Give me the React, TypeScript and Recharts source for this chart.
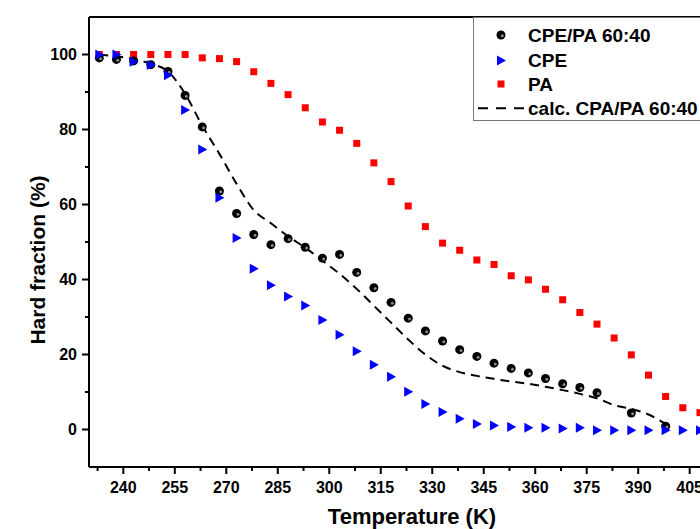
import {
  ComposedChart,
  Scatter,
  Line,
  XAxis,
  YAxis,
  ReferenceLine,
} from "recharts";

// temperatures (K), 5 K steps starting at 233 K
const temps = [
  233, 238, 243, 248, 253, 258, 263, 268, 273, 278, 283, 288, 293, 298, 303, 308,
  313, 318, 323, 328, 333, 338, 343, 348, 353, 358, 363, 368, 373, 378, 383, 388,
  393, 398, 403, 408,
];

const paValues = [
  100, 100, 100, 100, 100, 100, 99.1, 98.9, 98.1, 95.4, 92.3, 89.3, 85.8, 82.0,
  79.8, 76.3, 71.1, 66.1, 59.6, 54.1, 49.7, 47.8, 45.2, 44.0, 41.0, 39.9, 37.4,
  34.6, 31.2, 28.1, 24.4, 19.9, 14.5, 8.8, 5.8, 4.5,
];

const cpeValues = [
  100, 100, 98.1, 97.2, 94.5, 85.2, 74.7, 61.8, 51.1, 42.9, 38.5, 35.5, 33.1,
  29.2, 25.3, 20.9, 17.3, 14.1, 10.1, 6.8, 4.7, 2.9, 1.5, 1.1, 0.7, 0.5, 0.5,
  0.3, 0.5, -0.2, -0.2, -0.2, -0.2, -0.2, -0.2, -0.2,
];

const blendTemps = [
  233, 238, 243, 248, 253, 258, 263, 268, 273, 278, 283, 288, 293, 298, 303, 308,
  313, 318, 323, 328, 333, 338, 343, 348, 353, 358, 363, 368, 373, 378, 388, 398,
];
const blendValues = [
  99.1, 98.7, 98.3, 97.3, 95.5, 89.1, 80.7, 63.6, 57.6, 52.0, 49.3, 50.9, 48.6,
  45.7, 46.7, 41.9, 37.8, 33.9, 29.7, 26.3, 23.6, 21.3, 19.5, 17.7, 16.3, 15.1,
  13.6, 12.2, 11.2, 9.8, 4.4, 0.9,
];

const calcTemps = [
  233, 238, 243, 248, 253, 258, 263, 268, 273, 278, 283, 288, 293, 298, 303, 308,
  313, 318, 323, 328, 333, 338, 343, 348, 353, 358, 363, 368, 373, 378, 383, 388,
  393, 398,
];
const calcValues = [
  100, 99.5, 98.8, 97.5, 95.5, 89.5, 81, 73.5, 65.5, 58.5, 55, 51.5, 48.5, 45,
  41.5, 37.5, 33, 28.5, 24, 20, 17, 15.3, 14.3, 13.5, 12.8, 12.2, 11.4, 10.5,
  9.5, 8.3, 6.5, 5.5, 4.0, 1.5,
];

const xTicks = [
  232.5, 240, 247.5, 255, 262.5, 270, 277.5, 285, 292.5, 300, 307.5, 315, 322.5,
  330, 337.5, 345, 352.5, 360, 367.5, 375, 382.5, 390, 397.5, 405, 412.5,
];
const yTicks = [0, 10, 20, 30, 40, 50, 60, 70, 80, 90, 100];

const paData = temps.map((t, i) => ({ t, v: paValues[i] }));
const cpeData = temps.map((t, i) => ({ t, v: cpeValues[i] }));
const blendData = blendTemps.map((t, i) => ({ t, v: blendValues[i] }));
const calcData = calcTemps.map((t, i) => ({ t, v: calcValues[i] }));

const FONT = "Arial, 'Liberation Sans', sans-serif";

const Square = ({ cx, cy }: any) => (
  <rect x={cx - 3.5} y={cy - 3.5} width={7} height={7} fill="#ff0000" />
);

const Triangle = ({ cx, cy }: any) => (
  <path d={`M${cx - 4},${cy - 5} L${cx + 5},${cy} L${cx - 4},${cy + 5} Z`} fill="#0000ff" />
);

const Sphere = ({ cx, cy }: any) => (
  <g>
    <circle cx={cx} cy={cy} r={4.5} fill="#000" />
    <circle cx={cx + 1.3} cy={cy + 0.8} r={1.5} fill="#888" />
  </g>
);

const XTick = ({ x, y, payload }: any) => {
  const major = payload.value % 15 === 0;
  return (
    <g>
      <line x1={x} y1={y} x2={x} y2={y + (major ? 7 : 4)} stroke="#000" strokeWidth={2} />
      {major && (
        <text x={x} y={y + 26} textAnchor="middle" fontFamily={FONT} fontWeight="bold" fontSize={16} fill="#000">
          {payload.value}
        </text>
      )}
    </g>
  );
};

const YTick = ({ x, y, payload }: any) => {
  const major = payload.value % 20 === 0;
  return (
    <g>
      <line x1={x} y1={y} x2={x - (major ? 7 : 4)} y2={y} stroke="#000" strokeWidth={2} />
      {major && (
        <text x={x - 12} y={y + 5.5} textAnchor="end" fontFamily={FONT} fontWeight="bold" fontSize={16} fill="#000">
          {payload.value}
        </text>
      )}
    </g>
  );
};

const legendRows = [
  { label: "CPE/PA 60:40", y: 18, kind: "sphere" },
  { label: "CPE", y: 43.5, kind: "triangle" },
  { label: "PA", y: 67, kind: "square" },
  { label: "calc. CPA/PA 60:40", y: 91.3, kind: "line" },
];

export default function App() {
  return (
    <div style={{ position: "absolute", left: 0, top: 0, width: 700, height: 529, overflow: "hidden", background: "#fff" }}>
      <ComposedChart width={740} height={529} margin={{ top: 17, right: 16, bottom: 32, left: 39 }}>
        <XAxis
          type="number"
          dataKey="t"
          domain={[230, 415]}
          ticks={xTicks}
          interval={0}
          allowDataOverflow
          height={30}
          tickSize={0}
          tickMargin={0}
          tickLine={false}
          axisLine={{ stroke: "#000", strokeWidth: 2 }}
          tick={<XTick />}
          label={{
            content: () => (
              <text x={412} y={524} textAnchor="middle" fontFamily={FONT} fontWeight="bold" fontSize={22} fill="#000">
                Temperature (K)
              </text>
            ),
          }}
        />
        <YAxis
          type="number"
          dataKey="v"
          domain={[-10, 110]}
          ticks={yTicks}
          interval={0}
          allowDataOverflow
          width={50}
          tickSize={0}
          tickMargin={0}
          tickLine={false}
          axisLine={{ stroke: "#000", strokeWidth: 2 }}
          tick={<YTick />}
          label={{
            content: () => (
              <text
                transform="translate(45,260) rotate(-90)"
                textAnchor="middle"
                fontFamily={FONT}
                fontWeight="bold"
                fontSize={21}
                fill="#000"
              >
                Hard fraction (%)
              </text>
            ),
          }}
        />
        <ReferenceLine y={110} stroke="#000" strokeWidth={2} />
        <Scatter name="PA" data={paData} dataKey="v" shape={<Square />} isAnimationActive={false} />
        <Scatter name="CPE/PA 60:40" data={blendData} dataKey="v" shape={<Sphere />} isAnimationActive={false} />
        <Scatter name="CPE" data={cpeData} dataKey="v" shape={<Triangle />} isAnimationActive={false} />
        <Line
          name="calc. CPA/PA 60:40"
          data={calcData}
          dataKey="v"
          type="monotone"
          stroke="#000"
          strokeWidth={2}
          strokeDasharray="9 6"
          dot={false}
          isAnimationActive={false}
        />
      </ComposedChart>
      <svg style={{ position: "absolute", left: 473, top: 17 }} width={260} height={105}>
        <rect x={0.5} y={0.5} width={258} height={103} fill="#fff" stroke="#777" strokeWidth={1} />
        {legendRows.map((r) => (
          <g key={r.label}>
            {r.kind === "sphere" && <Sphere cx={28} cy={r.y} />}
            {r.kind === "triangle" && <Triangle cx={28} cy={r.y} />}
            {r.kind === "square" && <Square cx={28} cy={r.y} />}
            {r.kind === "line" && (
              <line x1={5} y1={r.y} x2={51} y2={r.y} stroke="#000" strokeWidth={2} strokeDasharray="10 8" />
            )}
            <text x={55} y={r.y + 6.8} fontFamily={FONT} fontWeight="bold" fontSize={19} fill="#000">
              {r.label}
            </text>
          </g>
        ))}
      </svg>
    </div>
  );
}
